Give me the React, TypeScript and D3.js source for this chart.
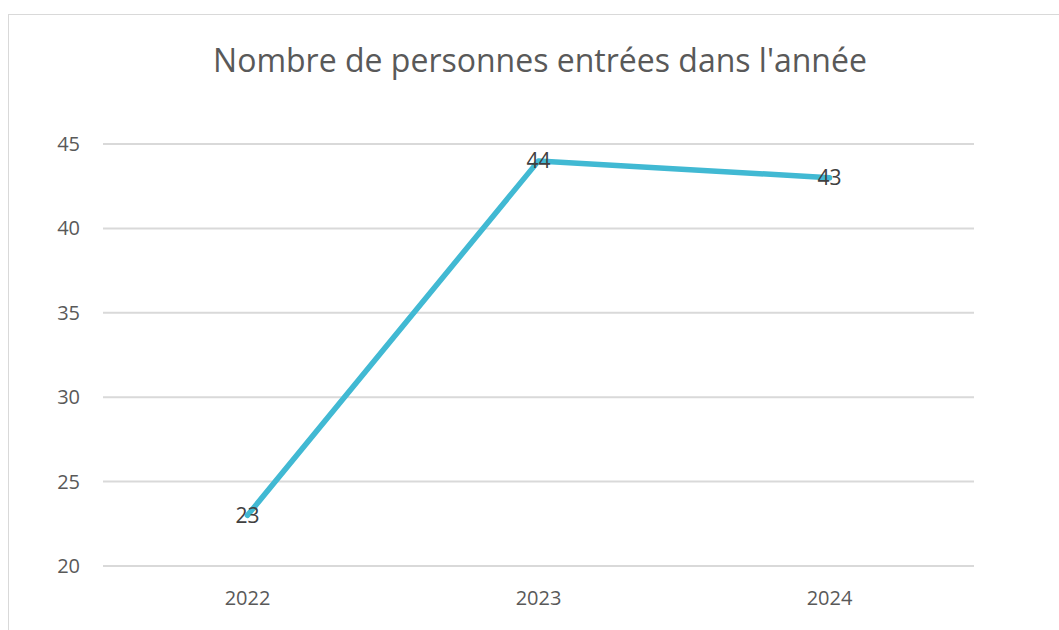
import React from 'react';
import * as d3 from 'd3';

const years = ['2022', '2023', '2024'];
const entrees = [23, 44, 43];
const yTicks = [20, 25, 30, 35, 40, 45];
const title = "Nombre de personnes entrées dans l'année";

const width = 1059;
const height = 630;
const plot = { left: 102, right: 975, top: 144, bottom: 566 };
const lineColor = '#41b9d3';
const font = "'Open Sans', 'Liberation Sans', sans-serif";

export default function App() {
  const x = d3.scaleBand<string>().domain(years).range([plot.left, plot.right]).padding(0);
  const y = d3.scaleLinear().domain([20, 45]).range([plot.bottom, plot.top]);
  const cx = (d: string) => (x(d) ?? 0) + x.bandwidth() / 2;

  const line = d3.line<number>()
    .x((_, i) => cx(years[i]))
    .y(d => y(d));

  return (
    <svg width={width} height={height} style={{ position: 'absolute', left: 0, top: 0, display: 'block' }}>
      <rect x={0} y={0} width={width} height={height} fill='#fff' />
      {/* chart area border, runs past the window on the right and bottom */}
      <rect x={8.5} y={14.5} width={width + 20} height={height + 20} fill='none' stroke='#d9d9d9' strokeWidth={1} />

      <text x={540} y={72} textAnchor='middle' fontFamily={font} fontSize={32} fill='#595959'>{title}</text>

      {yTicks.map(t => (
        <g key={t}>
          <line x1={plot.left + 1} x2={plot.right - 1} y1={y(t)} y2={y(t)} stroke='#d9d9d9' strokeWidth={2} />
          <text x={80} y={y(t)} dy='0.35em' textAnchor='end' fontFamily={font} fontSize={20} fill='#595959'>{t}</text>
        </g>
      ))}

      {years.map(yr => (
        <text key={yr} x={cx(yr)} y={605} textAnchor='middle' fontFamily={font} fontSize={20} fill='#595959'>{yr}</text>
      ))}

      <path d={line(entrees) ?? ''} fill='none' stroke={lineColor} strokeWidth={5.5} strokeLinejoin='round' strokeLinecap='round' />

      {entrees.map((v, i) => (
        <text key={i} x={cx(years[i])} y={y(v)} dy='0.35em' textAnchor='middle' fontFamily={font} fontSize={21} fill='#404040'>{v}</text>
      ))}
    </svg>
  );
}
